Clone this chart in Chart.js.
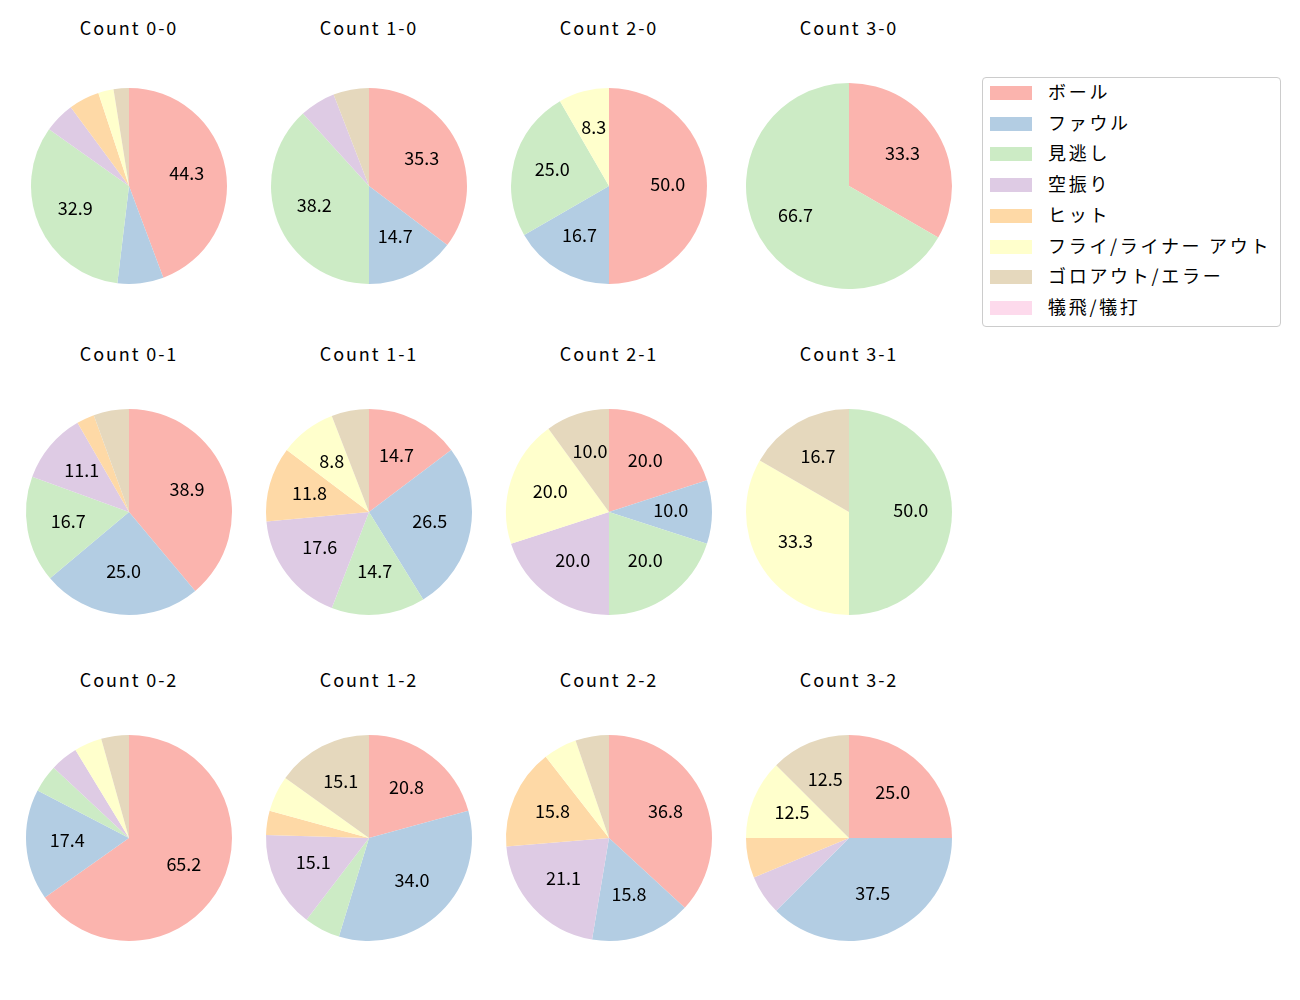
<!DOCTYPE html>
<html>
<head>
<meta charset="utf-8">
<script src="https://cdn.jsdelivr.net/npm/chart.js@4.4.1/dist/chart.umd.min.js"></script>
<style>
    body { margin: 0; background: #fff; font-family: "Noto Sans CJK JP", "Noto Sans", sans-serif; }
    #stage { position: relative; width: 1300px; height: 1000px; overflow: hidden; }
    .title { position: absolute; width: 200px; text-align: center; font-size: 18px; line-height: 20px; color: #000; letter-spacing: 1.9px; }
    .pie { position: absolute; }
    #legend { position: absolute; left: 982px; top: 77px; width: 297px; height: 248px; border: 1px solid #ccc; border-radius: 4px; }
    .legend-item { position: absolute; left: 0; height: 20px; width: 100%; }
    .legend-swatch { position: absolute; left: 7px; top: 3px; width: 42px; height: 14px; }
    .legend-text { position: absolute; left: 65px; top: -2px; font-size: 18px; line-height: 20px; color: #000; white-space: nowrap; letter-spacing: 2.7px; }
</style>
</head>
<body>
<div id="stage">
    <div id="legend"></div>
</div>
<script>
const categories = ["ボール", "ファウル", "見逃し", "空振り", "ヒット", "フライ/ライナー アウト", "ゴロアウト/エラー", "犠飛/犠打"];
const colors = ["#fbb4ae", "#b3cde3", "#ccebc5", "#decbe4", "#fed9a6", "#ffffcc", "#e5d8bd", "#fddaec"];

const countLabels = ["0-0", "1-0", "2-0", "3-0", "0-1", "1-1", "2-1", "3-1", "0-2", "1-2", "2-2", "3-2"];

// pitch counts per category, same order as categories
const count00 = [35, 6, 26, 4, 4, 2, 2, 0];
const count10 = [12, 5, 13, 2, 0, 0, 2, 0];
const count20 = [6, 2, 3, 0, 0, 1, 0, 0];
const count30 = [1, 0, 2, 0, 0, 0, 0, 0];
const count01 = [14, 9, 6, 4, 1, 0, 2, 0];
const count11 = [5, 9, 5, 6, 4, 3, 2, 0];
const count21 = [2, 1, 2, 2, 0, 2, 1, 0];
const count31 = [0, 0, 3, 0, 0, 2, 1, 0];
const count02 = [15, 4, 1, 1, 0, 1, 1, 0];
const count12 = [11, 18, 3, 8, 2, 3, 8, 0];
const count22 = [7, 3, 0, 4, 3, 1, 1, 0];
const count32 = [4, 6, 0, 1, 1, 2, 2, 0];

const countData = [count00, count10, count20, count30, count01, count11, count21, count31, count02, count12, count22, count32];

// layout
const colX = [129, 369, 609, 849];
const rowY = [186, 512, 838];
const pieRadius = [98, 98, 98, 103, 103, 103, 103, 103, 103, 103, 103, 103];
const titleOffset = 158;

const pctLabels = {
    id: "pctLabels",
    afterDatasetsDraw(chart) {
        const ctx = chart.ctx;
        const values = chart.data.datasets[0].data;
        const total = values.reduce((a, b) => a + b, 0);
        const meta = chart.getDatasetMeta(0);
        ctx.save();
        ctx.font = '18px "Noto Sans CJK JP"';
        ctx.fillStyle = "#000";
        ctx.textAlign = "center";
        ctx.textBaseline = "middle";
        meta.data.forEach((arc, i) => {
            const pct = total ? values[i] / total * 100 : 0;
            if (pct < 8) return;
            const p = arc.getProps(["x", "y", "startAngle", "endAngle", "outerRadius"], true);
            const mid = (p.startAngle + p.endAngle) / 2;
            const r = p.outerRadius * 0.6;
            ctx.fillText(pct.toFixed(1), p.x + Math.cos(mid) * r, p.y + Math.sin(mid) * r - 2);
        });
        ctx.restore();
    }
};

const stage = document.getElementById("stage");

countData.forEach((values, idx) => {
    const col = idx % 4;
    const row = Math.floor(idx / 4);
    const cx = colX[col];
    const cy = rowY[row];
    const r = pieRadius[idx];
    const size = 2 * r + 8;

    const title = document.createElement("div");
    title.className = "title";
    title.textContent = `Count ${countLabels[idx]}`;
    title.style.left = `${cx - 100}px`;
    title.style.top = `${cy - titleOffset - 11}px`;
    stage.appendChild(title);

    const wrap = document.createElement("div");
    wrap.className = "pie";
    wrap.style.left = `${cx - size / 2}px`;
    wrap.style.top = `${cy - size / 2}px`;
    const canvas = document.createElement("canvas");
    canvas.width = size;
    canvas.height = size;
    wrap.appendChild(canvas);
    stage.appendChild(wrap);

    new Chart(canvas, {
        type: "pie",
        data: {
            labels: categories,
            datasets: [{
                data: values,
                backgroundColor: colors,
                borderWidth: 0
            }]
        },
        options: {
            responsive: false,
            animation: false,
            events: [],
            radius: r,
            layout: { padding: 0 },
            plugins: {
                legend: { display: false },
                tooltip: { enabled: false }
            }
        },
        plugins: [pctLabels]
    });
});

const legend = document.getElementById("legend");
categories.forEach((name, i) => {
    const item = document.createElement("div");
    item.className = "legend-item";
    item.style.top = `${5 + i * 30.7}px`;
    const swatch = document.createElement("div");
    swatch.className = "legend-swatch";
    swatch.style.background = colors[i];
    const text = document.createElement("div");
    text.className = "legend-text";
    text.textContent = name;
    item.appendChild(swatch);
    item.appendChild(text);
    legend.appendChild(item);
});
</script>
</body>
</html>
